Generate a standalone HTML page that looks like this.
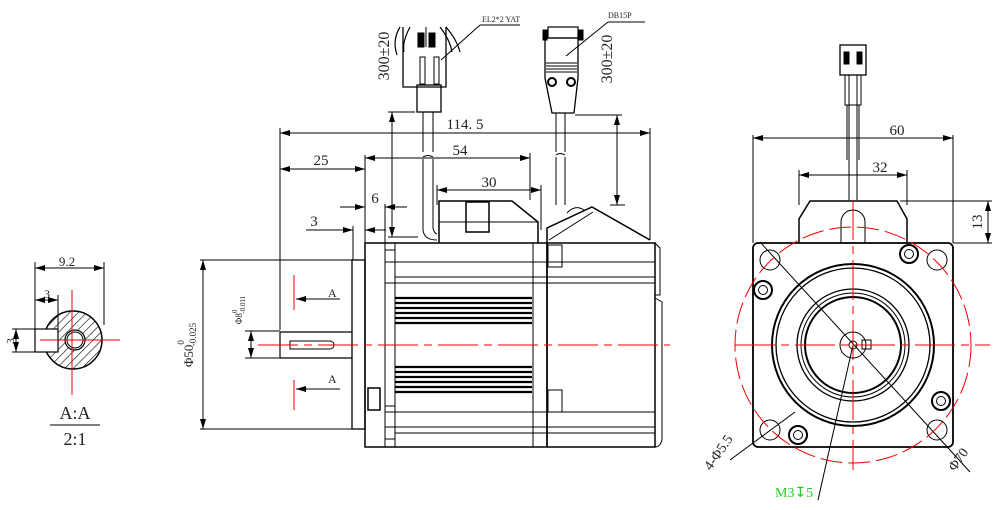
<!DOCTYPE html>
<html><head><meta charset="utf-8"><style>html,body{margin:0;padding:0;background:#fff}svg{display:block}text{font-family:"Liberation Serif",serif;fill:#222}</style></head><body>
<svg width="1005" height="510" viewBox="0 0 1005 510" xmlns="http://www.w3.org/2000/svg">
<defs>
<marker id="a" viewBox="0 0 10 6" refX="10" refY="3" markerWidth="10" markerHeight="6" orient="auto-start-reverse" markerUnits="userSpaceOnUse"><path d="M0,0L10,3L0,6z" fill="#000"/></marker>
<pattern id="h" width="6" height="6" patternUnits="userSpaceOnUse" patternTransform="rotate(45)"><line x1="0" y1="0" x2="0" y2="6" stroke="#000" stroke-width="1.2"/></pattern>
</defs>
<g fill="none" stroke="#000" stroke-width="1">
<circle cx="73" cy="340" r="29" fill="url(#h)" stroke-width="1.5"/>
<rect x="35" y="329" width="23" height="23" fill="#fff" stroke-width="1.2"/>
<circle cx="75" cy="340" r="10" fill="#fff" stroke-width="1.2"/><circle cx="75" cy="340" r="8"/>
<line x1="35" y1="262" x2="35" y2="330"/><line x1="104" y1="262" x2="104" y2="325"/>
<line x1="35" y1="268" x2="104" y2="268" marker-start="url(#a)" marker-end="url(#a)"/>
<line x1="58" y1="295" x2="58" y2="330"/>
<line x1="35" y1="300" x2="58" y2="300" marker-start="url(#a)" marker-end="url(#a)"/>
<line x1="12" y1="329" x2="35" y2="329"/><line x1="12" y1="352" x2="35" y2="352"/>
<line x1="16" y1="329" x2="16" y2="352" marker-start="url(#a)" marker-end="url(#a)"/>
<line x1="50" y1="425" x2="100" y2="425"/>
<line x1="200" y1="260" x2="352" y2="260"/><line x1="200" y1="429" x2="352" y2="429"/>
<line x1="203" y1="260" x2="203" y2="429" marker-start="url(#a)" marker-end="url(#a)"/>
<line x1="245" y1="331" x2="280" y2="331"/><line x1="245" y1="358" x2="280" y2="358"/>
<line x1="251" y1="331" x2="251" y2="358" marker-start="url(#a)" marker-end="url(#a)"/>
<line x1="280" y1="128" x2="280" y2="330"/>
<line x1="280" y1="133" x2="650" y2="133" marker-start="url(#a)" marker-end="url(#a)"/>
<line x1="650" y1="128" x2="650" y2="240"/>
<line x1="365" y1="155" x2="365" y2="243"/>
<line x1="365" y1="158" x2="530" y2="158" marker-start="url(#a)" marker-end="url(#a)"/>
<line x1="530" y1="153" x2="530" y2="200"/>
<line x1="280" y1="169" x2="365" y2="169" marker-start="url(#a)" marker-end="url(#a)"/>
<line x1="437" y1="185" x2="437" y2="205"/><line x1="541" y1="185" x2="541" y2="230"/>
<line x1="437" y1="190" x2="541" y2="190" marker-start="url(#a)" marker-end="url(#a)"/>
<line x1="340" y1="207" x2="365" y2="207" marker-end="url(#a)"/><line x1="385" y1="207" x2="407" y2="207" marker-start="url(#a)"/>
<line x1="385" y1="204" x2="385" y2="243"/>
<line x1="306" y1="230" x2="353" y2="230" marker-end="url(#a)"/><line x1="365" y1="230" x2="386" y2="230" marker-start="url(#a)"/>
<line x1="353" y1="226" x2="353" y2="260"/>
<line x1="392" y1="112" x2="392" y2="237" marker-start="url(#a)" marker-end="url(#a)"/>
<line x1="388" y1="112" x2="415" y2="112"/><line x1="388" y1="237" x2="418" y2="237"/>
<line x1="617" y1="115" x2="617" y2="205" marker-start="url(#a)" marker-end="url(#a)"/>
<line x1="575" y1="115" x2="622" y2="115"/><line x1="610" y1="205" x2="625" y2="205"/>
<path d="M403,27 L403,87 L446,87 L446,27" stroke-width="1.3"/>
<path d="M400,27 Q392,40 397,55 M410,27 Q402,42 404,52" stroke-width="1.2"/>
<path d="M446,27 Q457,40 460,52 M440,27 Q450,40 452,52" stroke-width="1.2"/>
<rect x="418" y="33" width="6" height="14" fill="#000"/><rect x="429" y="33" width="6" height="14" fill="#000"/>
<line x1="426" y1="27" x2="426" y2="47"/>
<rect x="420" y="57" width="5" height="27"/><rect x="434" y="57" width="5" height="27"/>
<rect x="417" y="85" width="24" height="27" stroke-width="1.3"/>
<path d="M423,112 V152 M433,112 V152 M423,157 Q428,154 433,157 M423,159 V230 Q424,240 437,240 M433,159 V228 Q434,233 437,234"/>
<line x1="441" y1="60" x2="480" y2="25"/><line x1="480" y1="25" x2="520" y2="25"/>
<rect x="548" y="27" width="30" height="11" stroke-width="1.2"/>
<rect x="543" y="30" width="4" height="10" fill="#000"/><rect x="579" y="30" width="4" height="10" fill="#000"/>
<path d="M545,38 H578 V78 L574,113 H552 L545,78 Z" stroke-width="1.3"/>
<line x1="546" y1="63" x2="577" y2="63"/><line x1="546" y1="66" x2="577" y2="66"/><line x1="546" y1="69" x2="577" y2="69"/><line x1="546" y1="72" x2="577" y2="72"/>
<circle cx="552" cy="82" r="4" stroke-width="2"/><circle cx="571" cy="82" r="4" stroke-width="2"/>
<path d="M556,113 V152 M565,113 V152 M556,155 Q560,152 565,155 M556,157 V205 M565,157 V205"/>
<line x1="566" y1="56" x2="608" y2="22"/><line x1="608" y1="22" x2="645" y2="22"/>
<rect x="352" y="260" width="13" height="169" stroke-width="1.3"/>
<path d="M280,332 H352 M280,358 H352 M280,332 V358" stroke-width="1.2"/>
<path d="M290,341 H330 A4,4 0 0 1 330,349 H290 Z"/>
<rect x="365" y="243" width="182" height="204" stroke-width="1.5"/>
<line x1="385" y1="243" x2="385" y2="447"/><line x1="395" y1="243" x2="395" y2="447"/>
<line x1="533" y1="243" x2="533" y2="447"/><line x1="547" y1="243" x2="547" y2="447" stroke-width="1.5"/>
<path d="M547,243 H655 V447 H547" stroke-width="1.5"/>
<path d="M655,243 L660,248 V295 H655 M655,298 L662,302 V440 Q660,447 655,447"/>
<line x1="385" y1="262" x2="655" y2="262"/><line x1="395" y1="277" x2="655" y2="277"/>
<line x1="385" y1="283" x2="655" y2="283"/>
<line x1="385" y1="412" x2="655" y2="412"/><line x1="385" y1="427" x2="655" y2="427"/><line x1="395" y1="433" x2="655" y2="433"/>
<rect x="385" y="250" width="10" height="33"/><rect x="385" y="406" width="10" height="33"/>
<rect x="368" y="388" width="12" height="22" stroke-width="1.5"/>
<rect x="548" y="245" width="14" height="22"/><rect x="548" y="390" width="14" height="22"/>
<g stroke-width="2.2">
<line x1="395" y1="298" x2="532" y2="298"/><line x1="395" y1="303" x2="532" y2="303"/><line x1="395" y1="308" x2="532" y2="308"/><line x1="395" y1="313" x2="532" y2="313"/><line x1="395" y1="318" x2="532" y2="318"/><line x1="395" y1="323" x2="532" y2="323"/>
<line x1="395" y1="367" x2="532" y2="367"/><line x1="395" y1="372" x2="532" y2="372"/><line x1="395" y1="377" x2="532" y2="377"/><line x1="395" y1="382" x2="532" y2="382"/><line x1="395" y1="387" x2="532" y2="387"/><line x1="395" y1="392" x2="532" y2="392"/>
</g>
<path d="M439,243 V201 H512 L538,222 V243" stroke-width="1.5"/>
<line x1="439" y1="222" x2="538" y2="222"/>
<rect x="466" y="202" width="23" height="30" stroke-width="1.5"/>
<path d="M547,243 V228 L592,207 L650,240" stroke-width="1.5"/>
<path d="M549,240 L593,212" />
<path d="M567,213 Q575,204 584,210"/>
<line x1="753" y1="135" x2="753" y2="243"/><line x1="953" y1="135" x2="953" y2="243"/>
<line x1="753" y1="138" x2="953" y2="138" marker-start="url(#a)" marker-end="url(#a)"/>
<line x1="799" y1="170" x2="799" y2="205"/><line x1="907" y1="170" x2="907" y2="205"/>
<line x1="799" y1="175" x2="907" y2="175" marker-start="url(#a)" marker-end="url(#a)"/>
<line x1="900" y1="201" x2="992" y2="201"/><line x1="953" y1="243" x2="992" y2="243"/>
<line x1="988" y1="201" x2="988" y2="243" marker-start="url(#a)" marker-end="url(#a)"/>
<path d="M849,75 V200 M857,75 V200" />
<rect x="840" y="45" width="26" height="30" stroke-width="1.3"/>
<rect x="844" y="52" width="5" height="12" fill="#000"/><rect x="857" y="52" width="5" height="12" fill="#000"/>
<rect x="845" y="75" width="16" height="30"/>
<line x1="847" y1="105" x2="847" y2="160"/><line x1="859" y1="105" x2="859" y2="160"/>
<path d="M799,243 V219 L810,201 H897 L907,219 V243" stroke-width="1.5"/>
<path d="M841,243 V222 A12,12 0 0 1 865,222 V243" />
<rect x="753" y="243" width="200" height="204" rx="5" stroke-width="1.8"/>
<circle cx="853" cy="345" r="81" stroke-width="2"/><circle cx="853" cy="345" r="77" stroke-width="1.3"/>
<circle cx="853" cy="345" r="56" stroke-width="1.3"/><circle cx="853" cy="345" r="52" stroke-width="1"/><circle cx="853" cy="345" r="48" stroke-width="2"/>
<circle cx="853" cy="345" r="13"/><circle cx="853" cy="345" r="4"/><rect x="862" y="340" width="9" height="9"/>
<circle cx="770" cy="260" r="10"/><circle cx="937" cy="260" r="10"/><circle cx="770" cy="430" r="10"/><circle cx="937" cy="430" r="10"/>
<g stroke-width="2"><circle cx="909" cy="254" r="9"/><circle cx="763" cy="290" r="9"/><circle cx="941" cy="401" r="9"/><circle cx="798" cy="435" r="9"/></g>
<circle cx="909" cy="254" r="4.5"/><circle cx="763" cy="290" r="4.5"/><circle cx="941" cy="401" r="4.5"/><circle cx="798" cy="435" r="4.5"/>
<line x1="760" y1="242" x2="970" y2="472"/>
<line x1="795" y1="412" x2="730" y2="460"/>
<line x1="853" y1="345" x2="818" y2="500"/>
</g>
<g stroke="#e00" stroke-width="1" fill="none">
<line x1="40" y1="340" x2="120" y2="340"/><line x1="72" y1="290" x2="72" y2="395"/>
<line x1="258" y1="345" x2="670" y2="345" stroke-dasharray="40,6,8,6"/>
<line x1="294" y1="275" x2="294" y2="310"/><line x1="294" y1="380" x2="294" y2="410"/>
<line x1="735" y1="345" x2="990" y2="345" stroke-dasharray="40,6,8,6"/>
<line x1="853" y1="200" x2="853" y2="470" stroke-dasharray="40,6,8,6"/>
<circle cx="853" cy="345" r="118" stroke-dasharray="22,6"/>
</g>
<g stroke="#000" fill="none"><line x1="296" y1="299" x2="340" y2="299" marker-start="url(#a)"/><line x1="296" y1="389" x2="340" y2="389" marker-start="url(#a)"/></g>
<text x="67" y="266" font-size="13" text-anchor="middle">9.2</text>
<text x="47" y="298" font-size="12" text-anchor="middle">3</text>
<text x="14" y="341" font-size="11" text-anchor="middle" transform="rotate(-90 14 341)">3</text>
<text x="75" y="419" font-size="18" text-anchor="middle">A:A</text>
<text x="75" y="445" font-size="18" text-anchor="middle">2:1</text>
<text x="193" y="345" font-size="13" text-anchor="middle" transform="rotate(-90 193 345)">Φ50<tspan font-size="9" dy="-9">0</tspan><tspan font-size="9" dx="-6" dy="12">-0.025</tspan></text>
<text x="242" y="310" font-size="9" text-anchor="middle" transform="rotate(-90 242 310)">Φ8<tspan font-size="7" dy="-5">0</tspan><tspan font-size="7" dx="-4" dy="8">-0.011</tspan></text>
<text x="328" y="297" font-size="12">A</text><text x="328" y="383" font-size="12">A</text>
<text x="465" y="129" font-size="15" text-anchor="middle">114. 5</text>
<text x="460" y="155" font-size="15" text-anchor="middle">54</text>
<text x="321" y="165" font-size="15" text-anchor="middle">25</text>
<text x="489" y="187" font-size="15" text-anchor="middle">30</text>
<text x="375" y="203" font-size="15" text-anchor="middle">6</text>
<text x="314" y="226" font-size="15" text-anchor="middle">3</text>
<text x="389" y="56" font-size="16" text-anchor="middle" transform="rotate(-90 389 56)">300±20</text>
<text x="612" y="59" font-size="16" text-anchor="middle" transform="rotate(-90 612 59)">300±20</text>
<text x="482" y="22" font-size="8" font-family="Liberation Sans">EL2*2 YAT</text>
<text x="608" y="18" font-size="8" font-family="Liberation Sans">DB15P</text>
<text x="897" y="135" font-size="15" text-anchor="middle">60</text>
<text x="880" y="172" font-size="15" text-anchor="middle">32</text>
<text x="982" y="222" font-size="15" text-anchor="middle" transform="rotate(-90 982 222)">13</text>
<text x="722" y="455" font-size="14" text-anchor="middle" transform="rotate(-55 722 455)">4-Φ5.5</text>
<text x="962" y="462" font-size="14" text-anchor="middle" transform="rotate(-55 962 462)">Φ70</text>
<text x="775" y="497" font-size="14" style="fill:#2c2">M3↧5</text>
</svg>
</body></html>
